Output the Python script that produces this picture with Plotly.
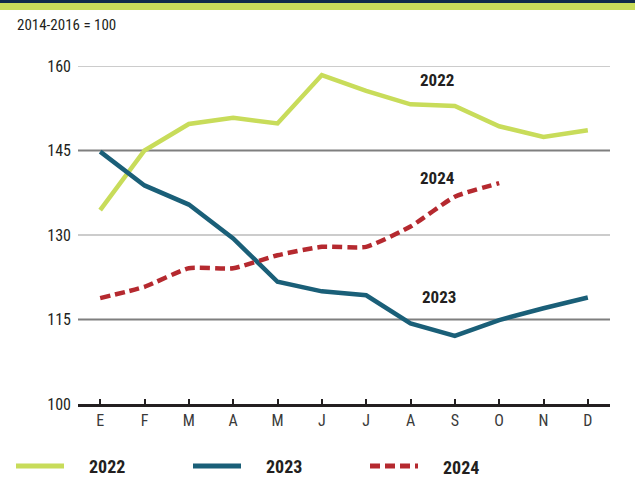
import plotly.graph_objects as go

months = ["E", "F", "M", "A", "M", "J", "J", "A", "S", "O", "N", "D"]
v2022 = [134.4, 145.0, 149.7, 150.8, 149.8, 158.4, 155.6, 153.2, 152.9, 149.3, 147.4, 148.6]
v2023 = [144.8, 138.8, 135.4, 129.4, 121.7, 120.0, 119.3, 114.3, 112.1, 114.9, 117.0, 118.9]
v2024 = [118.8, 120.8, 124.1, 124.1, 126.4, 127.9, 127.9, 131.5, 136.8, 139.2]
series_names = ["2022", "2023", "2024"]
y_ticks = [100, 115, 130, 145, 160]
grid_light = [130, 160]
grid_dark = [115, 145]
label_pos = {"2022": (7.6, 157.6), "2024": (7.6, 140.2), "2023": (7.65, 119.0)}

C22, C23, C24 = "#c8dc5a", "#1a5f78", "#b5292f"
colors = [C22, C23, C24]
dashes = ["solid", "solid", "10px,5px"]
FONT = "Liberation Sans Narrow, Roboto Condensed, Open Sans, sans-serif"

# plot area geometry (pixels)
W, H = 635, 493
L, R, T, B = 78, 25, 66, 89
PW, PH = W - L - R, H - T - B


def px(xp):
    return (xp - L) / PW


def py(yp):
    return (H - B - yp) / PH


x = list(range(len(months)))
fig = go.Figure()
fig.add_trace(go.Scatter(x=x, y=v2022, mode="lines", name=series_names[0],
                         line=dict(color=C22, width=4.5)))
fig.add_trace(go.Scatter(x=x, y=v2023, mode="lines", name=series_names[1],
                         line=dict(color=C23, width=4.5)))
fig.add_trace(go.Scatter(x=x[:len(v2024)], y=v2024, mode="lines", name=series_names[2],
                         line=dict(color=C24, width=4.5, dash="10px,5px", shape="spline", smoothing=0.5)))

shapes = []
for g in grid_light:
    shapes.append(dict(type="line", xref="paper", yref="y", x0=0, x1=1, y0=g, y1=g,
                       line=dict(color="#cccccc", width=2), layer="below"))
for g in grid_dark:
    shapes.append(dict(type="line", xref="paper", yref="y", x0=0, x1=1, y0=g, y1=g,
                       line=dict(color="#7f7f7f", width=2), layer="below"))
# top decorative bands
shapes.append(dict(type="rect", xref="paper", yref="paper", x0=px(-5), x1=px(W + 5),
                   y0=py(10), y1=py(3), fillcolor="#c8dc5a", line=dict(width=0)))
shapes.append(dict(type="rect", xref="paper", yref="paper", x0=px(-5), x1=px(W + 5),
                   y0=py(3), y1=py(-2), fillcolor="#0f2a4a", line=dict(width=0)))

annotations = [dict(x=label_pos[n][0], y=label_pos[n][1], xref="x", yref="y", text="<b>%s</b>" % n,
                    showarrow=False, font=dict(size=17, color="#231f20", family=FONT))
               for n in series_names]
annotations.append(dict(x=px(15), y=py(25), xref="paper", yref="paper", text="2014-2016 = 100",
                        showarrow=False, xanchor="left", yanchor="middle",
                        font=dict(size=15, color="#231f20", family=FONT)))

# manual legend
leg_x = [16, 193, 370]
leg_y = 466
for i, n in enumerate(series_names):
    shapes.append(dict(type="line", xref="paper", yref="paper",
                       x0=px(leg_x[i]), x1=px(leg_x[i] + 48), y0=py(leg_y), y1=py(leg_y),
                       line=dict(color=colors[i], width=5, dash=dashes[i])))
    annotations.append(dict(x=px(leg_x[i] + 71), y=py(leg_y + (1 if i == 2 else 0)), xref="paper", yref="paper",
                            text="<b>%s</b>" % n, showarrow=False, xanchor="left", yanchor="middle",
                            font=dict(size=18, color="#231f20", family=FONT)))

fig.update_layout(
    width=W, height=H,
    margin=dict(l=L, r=R, t=T, b=B, autoexpand=False),
    paper_bgcolor="white", plot_bgcolor="white",
    font=dict(family=FONT, color="#231f20"),
    showlegend=False,
    shapes=shapes,
    annotations=annotations,
    xaxis=dict(range=[-0.5, 11.5], tickvals=x, ticktext=months, showgrid=False, zeroline=False,
               showline=True, linecolor="#231f20", linewidth=3, ticks="inside", ticklen=5,
               tickwidth=2, tickcolor="#231f20", tickfont=dict(size=16, color="#3a3a3a"),
               fixedrange=True),
    yaxis=dict(range=[100, 160], tickvals=y_ticks, showgrid=False, zeroline=False,
               showline=False, ticks="", tickfont=dict(size=16, color="#231f20"),
               ticklabelstandoff=6, fixedrange=True),
)
fig.write_html("out.html", config={"displayModeBar": False},
               post_script="document.body.style.margin='0';document.body.style.overflow='hidden';")
